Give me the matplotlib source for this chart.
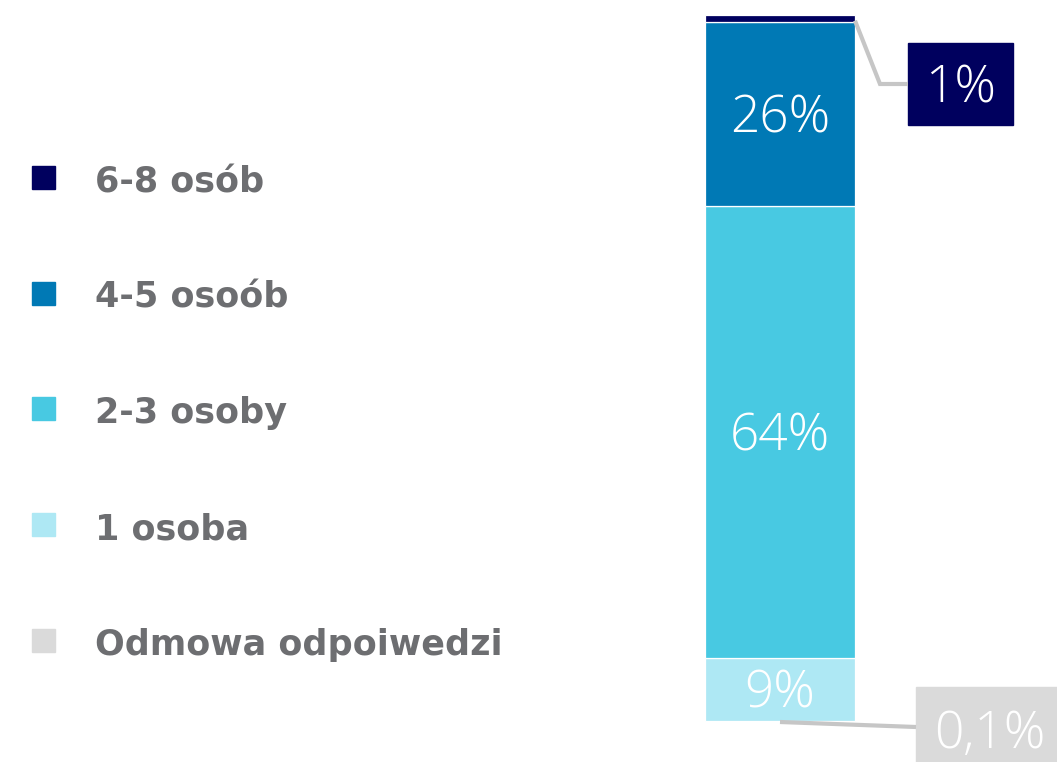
import matplotlib
matplotlib.use("Agg")
import matplotlib.pyplot as plt
from matplotlib.patches import Rectangle
from matplotlib.lines import Line2D
from matplotlib.transforms import IdentityTransform

# Household size distribution (bottom to top of the stacked bar)
categories = ["Odmowa odpoiwedzi", "1 osoba", "2-3 osoby", "4-5 osoób", "6-8 osób"]
shares = [0.1, 9, 64, 26, 1]
value_labels = ["0,1%", "9%", "64%", "26%", "1%"]
colors = ["#DADADA", "#AEE8F4", "#48C9E2", "#0079B5", "#00005E"]

W, H = 1057, 762
fig = plt.figure(figsize=(W / 100, H / 100), dpi=100)
fig.patch.set_facecolor("white")

# Axes placed so that the bar sits at the right-hand side of the canvas
bar_left_px, bar_right_px = 705, 855
top_px, bottom_px = 15, 722
unit = bar_right_px - bar_left_px
center_px = (bar_left_px + bar_right_px) / 2
ax = fig.add_axes([0, (H - bottom_px) / H, 1, (bottom_px - top_px) / H])
ax.set_xlim(-center_px / unit, (W - center_px) / unit)
total = sum(shares)
ax.set_ylim(0, total)
ax.axis("off")

VAL_SIZE = 37
# half the digit height, in points, so labels are centred on their digits
half_digit_pt = VAL_SIZE * 0.714 / 2
label_font = dict(family=["Open Sans", "DejaVu Sans"], fontweight=300, color="white")

bottom = 0
for cat, val, col in zip(categories, shares, colors):
    ax.bar(0, val, width=1, bottom=bottom, color=col, edgecolor="white",
           linewidth=0.9, label=cat)
    bottom += val

# In-bar value labels for the larger segments
bottom = 0
for val, lab in zip(shares, value_labels):
    if val >= 5:
        ax.annotate(lab, (0, bottom + val / 2), xytext=(0, -half_digit_pt),
                    textcoords="offset points", ha="center", va="baseline",
                    fontsize=VAL_SIZE, **label_font)
    bottom += val

# Callouts for the thin segments, drawn in pixel space
fig.canvas.draw()
to_px = ax.transData


def px(x, y):
    return (x, H - y)


def callout(anchor_data, path_px, box_px, color, text):
    ax_pt = to_px.transform(anchor_data)
    xs = [ax_pt[0]] + [p[0] for p in path_px]
    ys = [ax_pt[1]] + [H - p[1] for p in path_px]
    fig.add_artist(Line2D(xs, ys, transform=IdentityTransform(),
                          color="#C6C6C6", linewidth=3, solid_capstyle="butt",
                          solid_joinstyle="miter"))
    x0, y0, x1, y1 = box_px
    fig.add_artist(Rectangle(px(x0, y1), x1 - x0, y1 - y0,
                             transform=IdentityTransform(), color=color))
    cx, cy = (x0 + x1) / 2, (y0 + y1) / 2
    fig.text(cx / W, 1 - (cy + half_digit_pt * 100 / 72) / H, text, ha="center",
             va="baseline", fontsize=VAL_SIZE, **label_font)


# 1% on top
callout((0.5, total - shares[4] / 2 - 0.3), [(880, 84), (908, 84)],
        (908, 43, 1013, 125), colors[4], value_labels[4])
# 0,1% at the bottom
callout((0, 0), [(916, 727)], (916, 687, 1064, 773), colors[0], value_labels[0])

# Legend: square markers with bold grey labels, top entry first
row_y = [177.5, 293, 408.5, 524, 640]
for y, cat, col in zip(row_y, categories[::-1], colors[::-1]):
    fig.add_artist(Rectangle(px(32, y + 11.5), 23, 23,
                             transform=IdentityTransform(), color=col))
    fig.text(95 / W, 1 - (y + 15) / H, cat, ha="left", va="baseline",
             fontsize=25.2, fontweight="bold", color="#6D6E71",
             family=["DejaVu Sans"])

fig.savefig("out.png", dpi=100)
